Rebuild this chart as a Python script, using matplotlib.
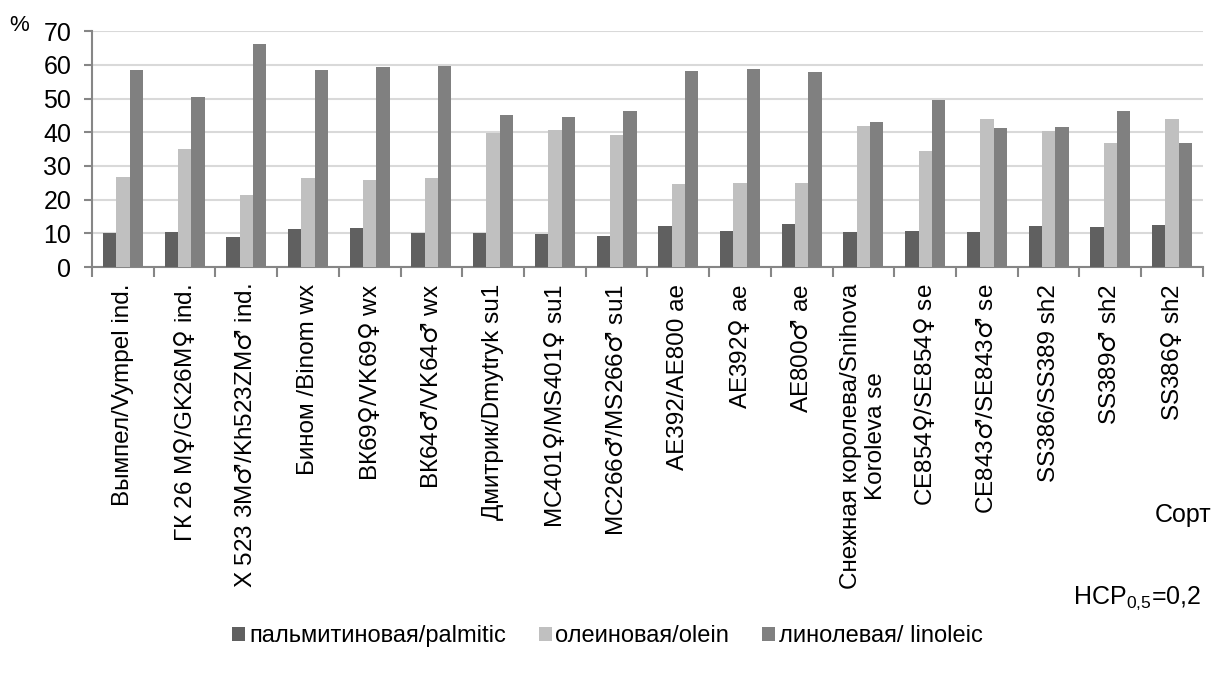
import numpy as np
import matplotlib
matplotlib.use("Agg")
import matplotlib.pyplot as plt

plt.rcParams['font.family'] = ['Liberation Sans', 'DejaVu Sans']
plt.rcParams['mathtext.fontset'] = 'custom'
plt.rcParams['mathtext.rm'] = 'Liberation Sans'
plt.rcParams['mathtext.sf'] = 'DejaVu Sans'
plt.rcParams['mathtext.default'] = 'regular'

# varieties (x categories)
varieties = [
    "Вымпел/Vympel ind.",
    "ГК 26 М♀/GK26M♀ ind.",
    "Х 523 3М♂/Kh523ZM♂ ind.",
    "Бином /Binom wx",
    "ВК69♀/VK69♀ wx",
    "ВК64♂/VK64♂ wx",
    "Дмитрик/Dmytryk su1",
    "МС401♀/MS401♀ su1",
    "МС266♂/MS266♂ su1",
    "AE392/AE800 ae",
    "AE392♀ ae",
    "AE800♂ ae",
    "Снежная королева/Snihova\nKoroleva se",
    "СЕ854♀/SE854♀ se",
    "СЕ843♂/SE843♂ se",
    "SS386/SS389 sh2",
    "SS389♂ sh2",
    "SS386♀ sh2",
]

# fatty acid content, %
palmitic = [10.2, 10.5, 8.9, 11.3, 11.5, 10.0, 10.0, 9.9, 9.2,
            12.3, 10.8, 12.8, 10.3, 10.7, 10.4, 12.2, 11.9, 12.5]
olein = [26.6, 35.0, 21.3, 26.4, 25.8, 26.5, 39.9, 40.6, 39.3,
         24.6, 25.0, 24.9, 41.8, 34.4, 43.9, 40.3, 36.9, 43.9]
linoleic = [58.6, 50.5, 66.2, 58.6, 59.4, 59.8, 45.1, 44.4, 46.3,
            58.1, 58.7, 57.8, 43.0, 49.5, 41.4, 41.6, 46.3, 36.8]

series_names = ["пальмитиновая/palmitic", "олеиновая/olein", "линолевая/ linoleic"]
colors = ["#606060", "#C0C0C0", "#808080"]

# draw the sex signs with DejaVu (full size) instead of Liberation's tiny ones
tick_labels = [v.replace("♀", r"$\mathsf{♀}$").replace("♂", r"$\mathsf{♂}$") for v in varieties]

fig = plt.figure(figsize=(12.2, 6.77), dpi=100)
ax = fig.add_axes([0.0754, 0.6056, 0.9106, 0.3484])

x = np.arange(len(varieties))
w = 0.216
for i, (vals, name, c) in enumerate(zip([palmitic, olein, linoleic], series_names, colors)):
    ax.bar(x + (i - 1) * w, vals, width=w, color=c, label=name, zorder=3)

ax.set_xlim(-0.5, len(varieties) - 0.5)
ax.set_ylim(0, 70)
ax.set_yticks(range(0, 71, 10))
ax.grid(axis='y', color='#D9D9D9', linewidth=1.5, zorder=0)
ax.set_axisbelow(True)

for s in ['top', 'right']:
    ax.spines[s].set_visible(False)
for s in ['left', 'bottom']:
    ax.spines[s].set_color('#868686')
    ax.spines[s].set_linewidth(1.5)

ax.tick_params(axis='y', labelsize=18, color='#868686', length=6, width=1.5, pad=9)
ax.set_xticks(x)
ax.set_xticklabels(tick_labels, rotation=90, va='top', ha='center', fontsize=17.5)
ax.tick_params(axis='x', which='major', length=0, pad=12)
ax.set_xticks(np.arange(-0.5, len(varieties), 1), minor=True)
ax.tick_params(axis='x', which='minor', length=7, width=1.5, color='#868686')

fig.text(0.016, 0.962, "%", fontsize=16, ha='center', va='center')
fig.text(0.97, 0.24, "Сорт", fontsize=18, ha='center', va='center')
fig.text(0.932, 0.116, "НСР$_{0{,}5}$=0,2", fontsize=18, ha='center', va='center')

fig.legend(loc='center', bbox_to_anchor=(0.498, 0.06), ncol=3, frameon=False,
           fontsize=17, handlelength=0.55, handleheight=0.55, handletextpad=0.15,
           columnspacing=1.4)

fig.savefig("out.png", dpi=100)
